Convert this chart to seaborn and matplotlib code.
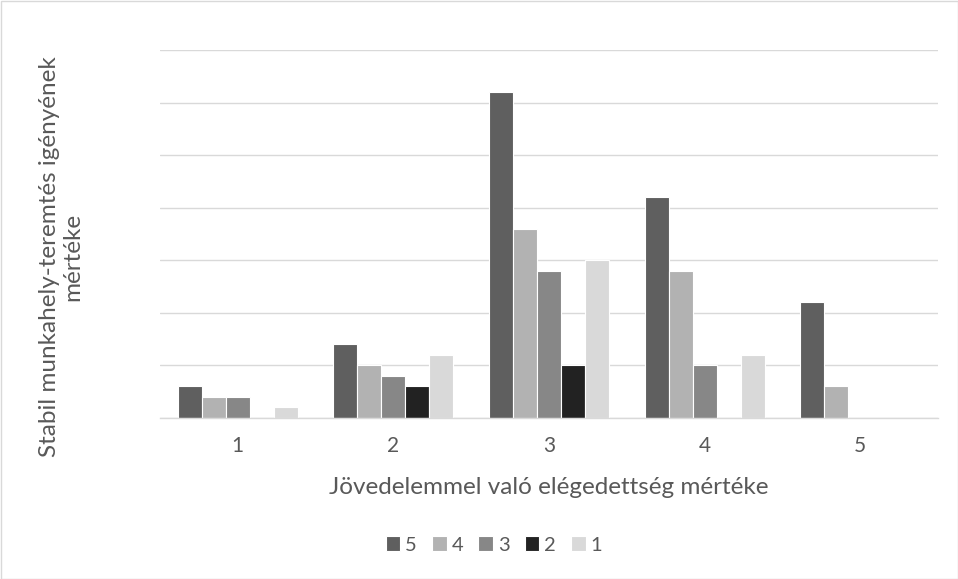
import matplotlib
matplotlib.use("Agg")
import matplotlib.pyplot as plt
import seaborn as sns
import pandas as pd
from matplotlib.patches import Rectangle

categories = ["1", "2", "3", "4", "5"]
series_names = ["5", "4", "3", "2", "1"]
s5 = [3, 7, 31, 21, 11]
s4 = [2, 5, 18, 14, 3]
s3 = [2, 4, 14, 5, 0]
s2 = [0, 3, 5, 0, 0]
s1 = [1, 6, 15, 6, 0]
colors = ["#5f5f5f", "#b2b2b2", "#878787", "#222222", "#d9d9d9"]

rows = []
for name, vals in zip(series_names, [s5, s4, s3, s2, s1]):
    for c, v in zip(categories, vals):
        rows.append({"cat": c, "series": name, "value": v})
df = pd.DataFrame(rows)

sns.set_style("white")
plt.rcParams['font.family'] = ['Lato', 'DejaVu Sans']
txt = "#595959"

fig = plt.figure(figsize=(9.58, 5.79), dpi=100)
ax = fig.add_axes([160/958, 1-418/579, (938-160)/958, (418-50)/579])
sns.barplot(data=df, x="cat", y="value", hue="series", order=categories,
            hue_order=series_names, palette=colors, ax=ax, width=0.77,
            edgecolor="white", linewidth=0.8, saturation=1, errorbar=None)
ax.set_ylim(0, 35)
ax.set_yticks(range(0, 36, 5))
ax.set_yticklabels([])
ax.grid(axis="y", color="#d9d9d9", linewidth=1)
ax.set_axisbelow(True)
for s in ["top", "right", "left"]:
    ax.spines[s].set_visible(False)
ax.spines["bottom"].set_color("#d9d9d9")
ax.spines["bottom"].set_linewidth(1)
ax.tick_params(axis="both", length=0, labelsize=15, labelcolor=txt, pad=13)
ax.set_xlabel("")
ax.set_ylabel("")
fig.text(549/958, 1-488/579, "Jövedelemmel való elégedettség mértéke",
         ha="center", va="center", fontsize=17.5, color=txt)
fig.text(61/958, 1-257/579, "Stabil munkahely-teremtés igényének\nmértéke", rotation=90,
         ha="center", va="center", fontsize=17.5, color=txt, linespacing=1.1)
ax.legend(loc="center", bbox_to_anchor=(494/958, 1-545/579), bbox_transform=fig.transFigure,
          ncol=5, frameon=False, fontsize=14.5, labelcolor=txt, handlelength=0.72,
          handleheight=0.72, handletextpad=0.25, columnspacing=0.75)
fig.patches.append(Rectangle((0.5/958, 0.5/579), 1-1/958, 1-1/579, transform=fig.transFigure,
                             fill=False, edgecolor="#d9d9d9", linewidth=1))
fig.savefig("out.png", dpi=100, facecolor="white")
